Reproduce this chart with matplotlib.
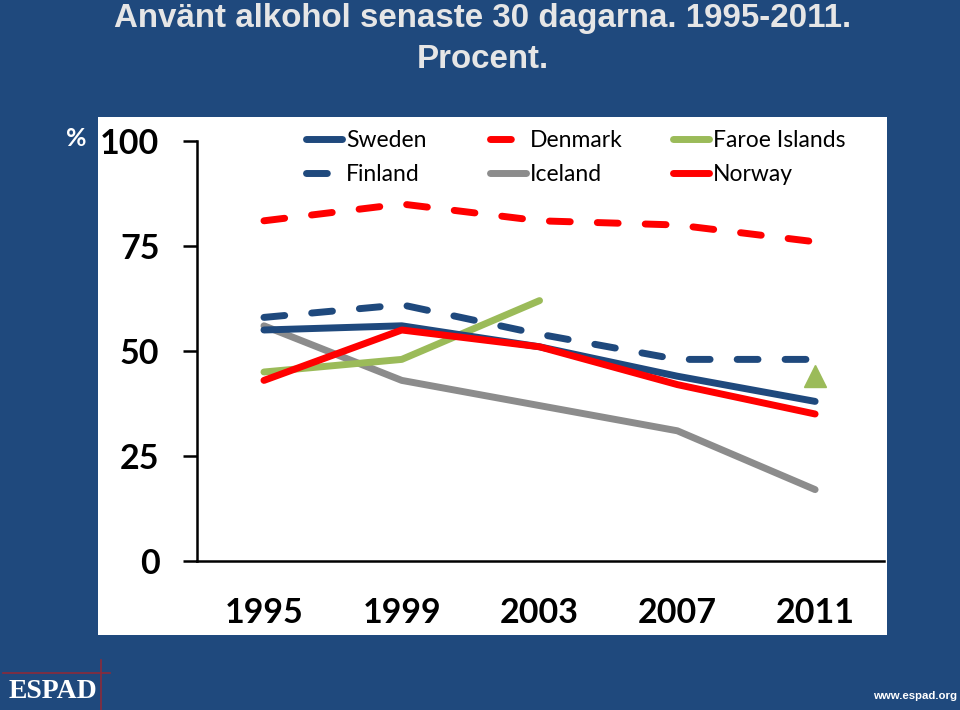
import numpy as np
import matplotlib
matplotlib.use('Agg')
import matplotlib.pyplot as plt
from matplotlib.lines import Line2D

# Data
years = ['1995', '1999', '2003', '2007', '2011']
sweden = [55, 56, 51, 44, 38]
finland = [58, 61, 54, 48, 48]
denmark = [81, 85, 81, 80, 76]
iceland = [56, 43, 37, 31, 17]
faroe = [45, 48, 62, np.nan, np.nan]
faroe_2011 = [44]
norway = [43, 55, 51, 42, 35]
y_ticks = [0, 25, 50, 75, 100]

BG = '#1F497D'
BLUE = '#1F497D'
RED = '#FF0000'
GREEN = '#9BBB59'
GREY = '#8C8C8C'
LW = 5
DASH = (0, (3.0, 3.9))

plt.rcParams['font.family'] = ['Lato', 'DejaVu Sans']

fig = plt.figure(figsize=(9.6, 7.1), dpi=100, facecolor=BG)


def px(x0, y0, x1, y1):
    # pixel box (top-left origin) to figure fractions
    return [x0 / 960, 1 - y1 / 710, (x1 - x0) / 960, (y1 - y0) / 710]


# White panel behind the chart
panel = fig.add_axes(px(98, 117, 887, 635), facecolor='white')
panel.set_xticks([])
panel.set_yticks([])
for s in panel.spines.values():
    s.set_visible(False)

ax = fig.add_axes(px(197, 141, 884, 561), facecolor='none')
x = np.arange(len(years))


def draw(vals, color, label, dashed=False):
    line, = ax.plot(x, vals, color=color, lw=LW, label=label,
                    solid_capstyle='round', dash_capstyle='round',
                    solid_joinstyle='round', clip_on=False)
    if dashed:
        line.set_linestyle(DASH)
    return line


draw(iceland, GREY, 'Iceland')
draw(faroe, GREEN, 'Faroe Islands')
draw(finland, BLUE, 'Finland', dashed=True)
draw(denmark, RED, 'Denmark', dashed=True)
draw(sweden, BLUE, 'Sweden')
draw(norway, RED, 'Norway')
ax.plot(x[4:], faroe_2011, linestyle='none', marker='^', ms=16,
        color=GREEN, mec=GREEN, clip_on=False)

ax.set_xlim(-0.486, 4.5)
ax.set_ylim(0, 100)
ax.set_yticks(y_ticks)
ax.set_xticks(x)
ax.set_xticklabels(years, fontsize=24.5, fontweight='bold')
ax.set_yticklabels([str(v) for v in y_ticks], fontsize=24.5, fontweight='bold')
ax.tick_params(axis='y', length=10, width=1.8, pad=17)
ax.tick_params(axis='x', length=0, pad=26)
ax.spines['top'].set_visible(False)
ax.spines['right'].set_visible(False)
ax.spines['left'].set_linewidth(1.8)
ax.spines['bottom'].set_linewidth(1.8)


# Legend: one block per column, the gaps in the original are uneven
def legend_col(left_px, entries):
    handles = []
    labels = []
    for color, dashed, name in entries:
        handles.append(Line2D([], [], color=color, lw=LW,
                              ls=DASH if dashed else '-',
                              solid_capstyle='round', dash_capstyle='round'))
        labels.append(name)
    leg = fig.legend(handles, labels, frameon=False, loc='upper left',
                     bbox_to_anchor=(left_px / 960, 1 - 130 / 710),
                     handlelength=1.55, handletextpad=0.2,
                     labelspacing=0.56, borderpad=0, borderaxespad=0,
                     prop={'family': 'Lato', 'size': 16.5})
    return leg


legend_col(306, [(BLUE, False, 'Sweden'), (BLUE, True, 'Finland')])
legend_col(490, [(RED, True, 'Denmark'), (GREY, False, 'Iceland')])
legend_col(673, [(GREEN, False, 'Faroe Islands'), (RED, False, 'Norway')])

# Title and slide furniture
fig.text(483 / 960, 1 - 19 / 710,
         'Använt alkohol senaste 30 dagarna. 1995-2011.',
         ha='center', va='center', fontsize=23.9, fontweight='bold',
         family='Liberation Sans', color='#E6E6E6')
fig.text(483 / 960, 1 - 59 / 710, 'Procent.',
         ha='center', va='center', fontsize=23.9, fontweight='bold',
         family='Liberation Sans', color='#E6E6E6')
fig.text(76 / 960, 1 - 139 / 710, '%', ha='center', va='center',
         fontsize=18, fontweight='bold', color='white')

fig.add_artist(Line2D([3 / 960, 110 / 960], [1 - 672.5 / 710] * 2,
                      color='#8B2A3A', lw=1.2))
fig.add_artist(Line2D([101 / 960] * 2, [1 - 660 / 710, 0],
                      color='#8B2A3A', lw=1.2))
fig.text(53 / 960, 1 - 692 / 710, 'ESPAD', ha='center', va='center',
         fontsize=20, fontweight='bold', family='Liberation Serif', color='white')
fig.text(957 / 960, 1 - 696 / 710, 'www.espad.org', ha='right', va='center',
         fontsize=8.2, fontweight='bold', family='Liberation Sans', color='white')

fig.savefig('out.png', dpi=100, facecolor=BG)
